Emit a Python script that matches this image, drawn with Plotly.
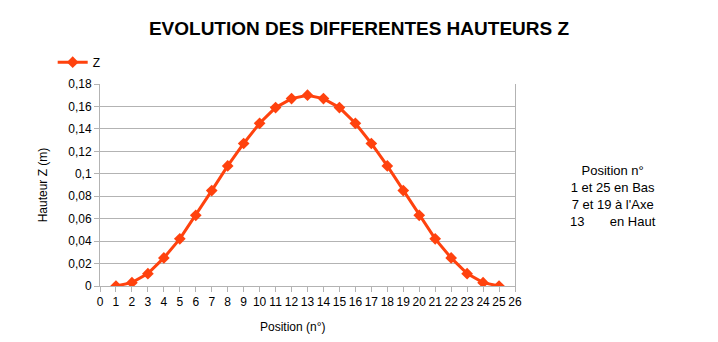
import plotly.graph_objects as go

positions = list(range(1, 26))
z_values = [0.0, 0.003, 0.011, 0.025, 0.042, 0.063, 0.085, 0.107, 0.127, 0.145, 0.159, 0.167, 0.170,
            0.167, 0.159, 0.145, 0.127, 0.107, 0.085, 0.063, 0.042, 0.025, 0.011, 0.003, 0.0]
y_tickvals = [0, 0.02, 0.04, 0.06, 0.08, 0.1, 0.12, 0.14, 0.16, 0.18]
y_ticktext = ["0", "0,02", "0,04", "0,06", "0,08", "0,1", "0,12", "0,14", "0,16", "0,18"]
x_tickvals = list(range(0, 27))

color = "#FF420E"
font = "Liberation Sans, Arial, sans-serif"

fig = go.Figure()
fig.add_trace(go.Scatter(
    x=positions, y=z_values, mode="lines+markers", name="Z",
    line=dict(color=color, width=3),
    marker=dict(symbol="diamond", size=9, color=color),
))

fig.update_layout(
    width=718, height=342,
    margin=dict(l=100, r=203, t=84, b=56),
    paper_bgcolor="white", plot_bgcolor="white",
    font=dict(family=font, size=12, color="#000000"),
    title=dict(text="<b>EVOLUTION DES DIFFERENTES HAUTEURS Z</b>", x=0.5, xanchor="center",
               y=1 - 28 / 342, yanchor="middle", font=dict(size=19, family=font, color="black")),
    showlegend=True,
    legend=dict(x=-0.114, y=1.18, xanchor="left", yanchor="top", bgcolor="rgba(0,0,0,0)",
                font=dict(size=12, family=font)),
    xaxis=dict(range=[0, 26], tickvals=x_tickvals, ticks="outside", ticklen=5, tickcolor="#b3b3b3",
               showline=True, linecolor="#b3b3b3", linewidth=1, showgrid=False, zeroline=False,
               tickfont=dict(size=12)),
    yaxis=dict(range=[0, 0.18], tickvals=y_tickvals, ticktext=y_ticktext, ticks="outside", ticklen=5,
               tickcolor="#b3b3b3", showline=True, linecolor="#b3b3b3", linewidth=1, mirror=True,
               showgrid=True, gridcolor="#b3b3b3", gridwidth=1, zeroline=False,
               tickfont=dict(size=12), title=dict(text="Hauteur Z (m)", font=dict(size=12), standoff=18)),
    annotations=[
        dict(text="Position n°<br>1 et 25 en Bas<br>7 et 19 à l'Axe<br>13\u00a0\u00a0\u00a0\u00a0\u00a0\u00a0\u00a0en Haut",
             xref="paper", yref="paper", x=(613 - 100) / 415, y=(286 - 196) / 202, xanchor="center",
             yanchor="middle", showarrow=False, align="center",
             font=dict(size=13, family=font, color="black")),
        dict(text="Position (n°)", xref="paper", yref="paper", x=(293 - 100) / 415, y=-(327 - 286) / 202,
             xanchor="center", yanchor="middle", showarrow=False, font=dict(size=12, family=font, color="black")),
    ],
)

fig.write_html("out.html")
